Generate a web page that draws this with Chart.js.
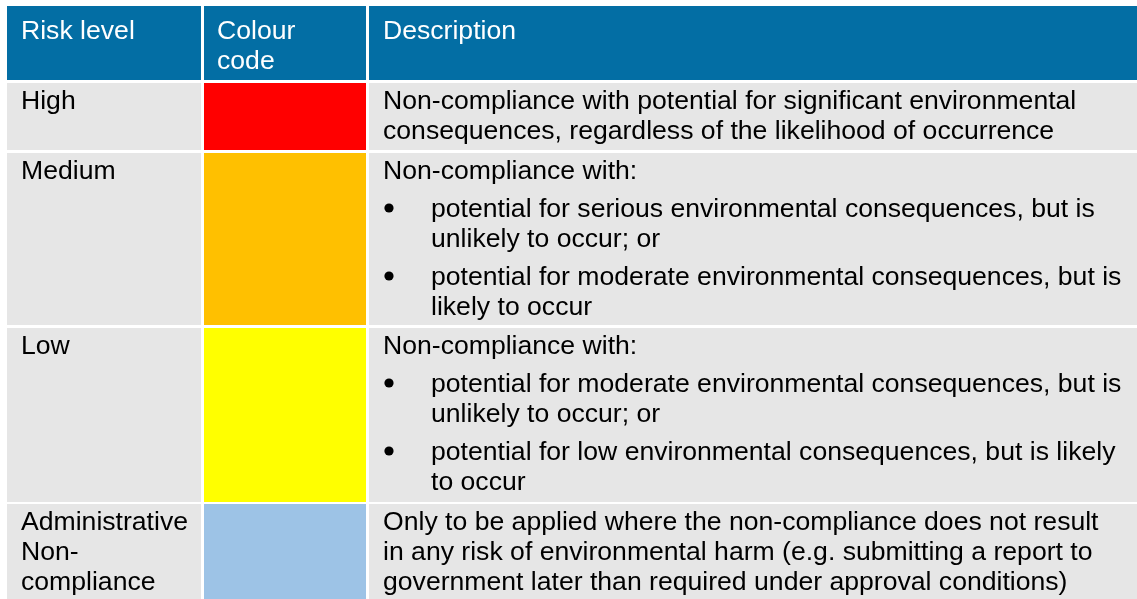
<!DOCTYPE html>
<html>
<head>
<meta charset="utf-8">
<script src="https://cdn.jsdelivr.net/npm/chart.js@4"></script>
<style>
  html, body { margin: 0; padding: 0; background: #ffffff; }
  #wrap { width: 1137px; height: 599px; }
</style>
</head>
<body>
<div id="wrap"><canvas id="riskTable" width="1137" height="599"></canvas></div>
<script>
// Table content
const headers = [['Risk level'], ['Colour', 'code'], ['Description']];
const riskLevels = [['High'], ['Medium'], ['Low'], ['Administrative', 'Non-', 'compliance']];
const colourCodes = ['#FF0000', '#FFC000', '#FFFF00', '#9DC3E6'];
const descriptions = [
    [{ bullet: false, lines: ['Non-compliance with potential for significant environmental', 'consequences, regardless of the likelihood of occurrence'] }],
    [{ bullet: false, lines: ['Non-compliance with:'] },
     { bullet: true, lines: ['potential for serious environmental consequences, but is', 'unlikely to occur; or'] },
     { bullet: true, lines: ['potential for moderate environmental consequences, but is', 'likely to occur'] }],
    [{ bullet: false, lines: ['Non-compliance with:'] },
     { bullet: true, lines: ['potential for moderate environmental consequences, but is', 'unlikely to occur; or'] },
     { bullet: true, lines: ['potential for low environmental consequences, but is likely', 'to occur'] }],
    [{ bullet: false, lines: ['Only to be applied where the non-compliance does not result', 'in any risk of environmental harm (e.g. submitting a report to', 'government later than required under approval conditions)'] }]
];

// Layout (table units = px of the page)
const colEdges = [[7, 201], [204, 366], [369, 1137]];
const rowEdges = [[6, 80], [83, 150], [153, 325], [328, 502], [504, 599]];
const textPad = [14, 13, 14];
const bulletIndent = 48;
const headerBlue = '#036EA4';
const cellGrey = '#E6E6E6';
const font = '26.6px "Liberation Sans", Arial, sans-serif';
const lineStep = 30;
const paraGap = 8;

// one dataset per table row, each cell a floating bar
const datasets = rowEdges.map((edges, r) => {
    const colors = r === 0
        ? [headerBlue, headerBlue, headerBlue]
        : [cellGrey, colourCodes[r - 1], cellGrey];
    return {
        data: colEdges.map(c => ({ x: [c[0], c[1]], y: (edges[0] + edges[1]) / 2 })),
        backgroundColor: colors,
        barThickness: edges[1] - edges[0],
        stack: 'table',
        borderWidth: 0,
        inflateAmount: 0
    };
});

// Cell text plugin
const cellText = {
    id: 'cellText',
    afterDatasetsDraw(chart) {
        const ctx = chart.ctx;
        const xs = chart.scales.x;
        const ys = chart.scales.y;
        ctx.save();
        ctx.font = font;
        ctx.textBaseline = 'alphabetic';
        ctx.textAlign = 'left';

        const drawLines = (lines, col, row, firstOffset, color) => {
            ctx.fillStyle = color;
            const x0 = colEdges[col][0] + textPad[col];
            lines.forEach((t, i) => {
                ctx.fillText(t, xs.getPixelForValue(x0), ys.getPixelForValue(rowEdges[row][0] + firstOffset + i * lineStep));
            });
        };

        headers.forEach((h, c) => drawLines(h, c, 0, 33, '#ffffff'));

        riskLevels.forEach((lv, i) => {
            const row = i + 1;
            drawLines(lv, 0, row, 26, '#000000');

            let off = 26;
            const x0 = colEdges[2][0] + textPad[2];
            ctx.fillStyle = '#000000';
            descriptions[i].forEach((p, pi) => {
                if (pi > 0) off += paraGap;
                p.lines.forEach((t, li) => {
                    const yPix = ys.getPixelForValue(rowEdges[row][0] + off);
                    if (p.bullet && li === 0) {
                        ctx.beginPath();
                        ctx.arc(xs.getPixelForValue(x0 + 6), yPix - 9, 4.6, 0, Math.PI * 2);
                        ctx.fill();
                    }
                    ctx.fillText(t, xs.getPixelForValue(p.bullet ? x0 + bulletIndent : x0), yPix);
                    off += lineStep;
                });
            });
        });
        ctx.restore();
    }
};

const tableCtx = document.getElementById('riskTable').getContext('2d');
new Chart(tableCtx, {
    type: 'bar',
    data: { datasets: datasets },
    options: {
        indexAxis: 'y',
        responsive: false,
        animation: false,
        layout: { padding: 0 },
        scales: {
            x: { type: 'linear', min: 0, max: 1137, display: false, stacked: false },
            y: { type: 'linear', min: 0, max: 599, reverse: true, display: false, offset: false }
        },
        plugins: {
            legend: { display: false },
            tooltip: { enabled: false }
        }
    },
    plugins: [cellText]
});
</script>
</body>
</html>
